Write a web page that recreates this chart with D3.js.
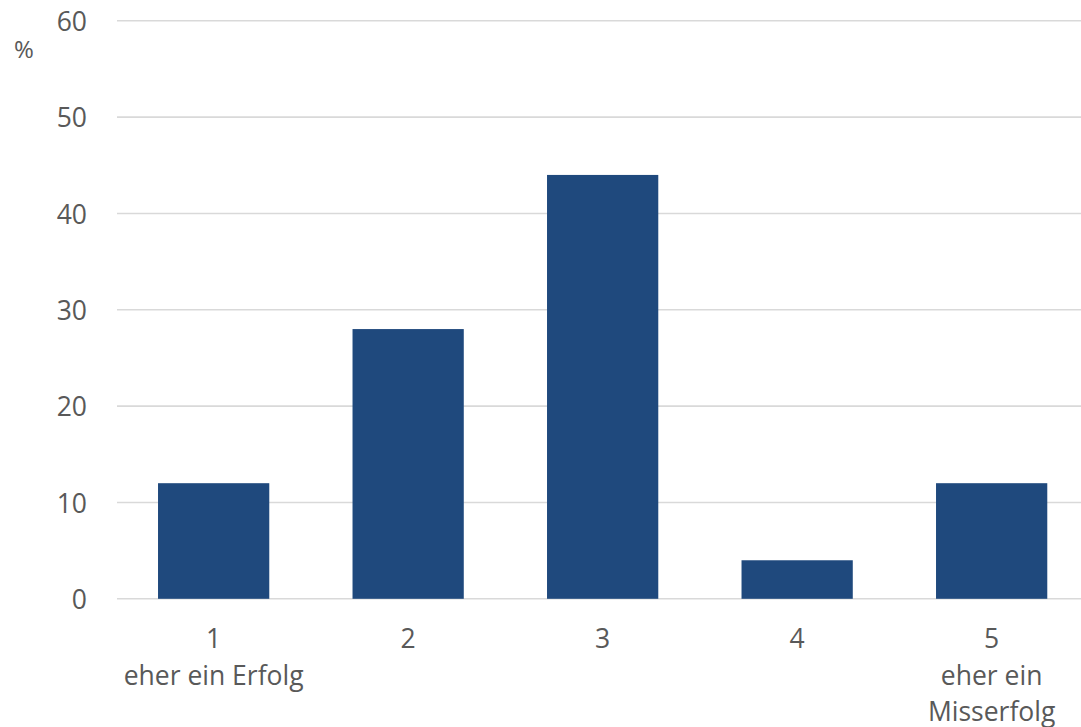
<!DOCTYPE html>
<html><head><meta charset="utf-8">
<script src="https://cdn.jsdelivr.net/npm/d3@7"></script>
<style>html,body{margin:0;padding:0;background:#fff;}svg{display:block;}</style>
</head><body><svg id="c" width="1081" height="727"></svg>
<script>
const categories = ["1", "2", "3", "4", "5"];
const subLabels = [["eher ein Erfolg"], [], [], [], ["eher ein", "Misserfolg"]];
const values = [12, 28, 44, 4, 12];
const yTicks = [0, 10, 20, 30, 40, 50, 60];
const unitLabel = "%";

const svg = d3.select("#c");
const font = "'Open Sans', sans-serif";
const textColor = "#595959";

const x = d3.scaleBand().domain(categories).range([116.4, 1088.9]).paddingInner(0.428).paddingOuter(0.214);
const y = d3.scaleLinear().domain([0, 60]).range([598.8, 20.8]);

// gridlines
svg.append("g").selectAll("line").data(yTicks).join("line")
  .attr("x1", 117).attr("x2", 1081)
  .attr("y1", d => y(d)).attr("y2", d => y(d))
  .attr("stroke", "#d9d9d9").attr("stroke-width", 1.6);

// y axis labels
const yAxis = d3.axisLeft(y).tickValues(yTicks).tickSize(0).tickPadding(0);
const gy = svg.append("g").attr("transform", "translate(87,0)").call(yAxis);
gy.select(".domain").remove();
gy.selectAll("text").attr("font-family", font).attr("font-size", 26.5).attr("fill", textColor).attr("dy", "0.36em");

svg.append("text").attr("x", 24).attr("y", 58).attr("text-anchor", "middle")
  .attr("font-family", font).attr("font-size", 24).attr("fill", textColor).text(unitLabel);

// bars
svg.append("g").selectAll("rect").data(values).join("rect")
  .attr("x", (d, i) => x(categories[i]))
  .attr("width", x.bandwidth())
  .attr("y", d => y(d))
  .attr("height", d => y(0) - y(d))
  .attr("fill", "#1f497d");

// x labels
const gx = svg.append("g");
categories.forEach((c, i) => {
  const lines = [c].concat(subLabels[i]);
  const t = gx.append("text").attr("text-anchor", "middle")
    .attr("font-family", font).attr("font-size", 26.5).attr("fill", textColor);
  lines.forEach((l, j) => {
    t.append("tspan").attr("x", x(c) + x.bandwidth() / 2).attr("y", 648 + j * 36.5).text(l);
  });
});
</script></body></html>
